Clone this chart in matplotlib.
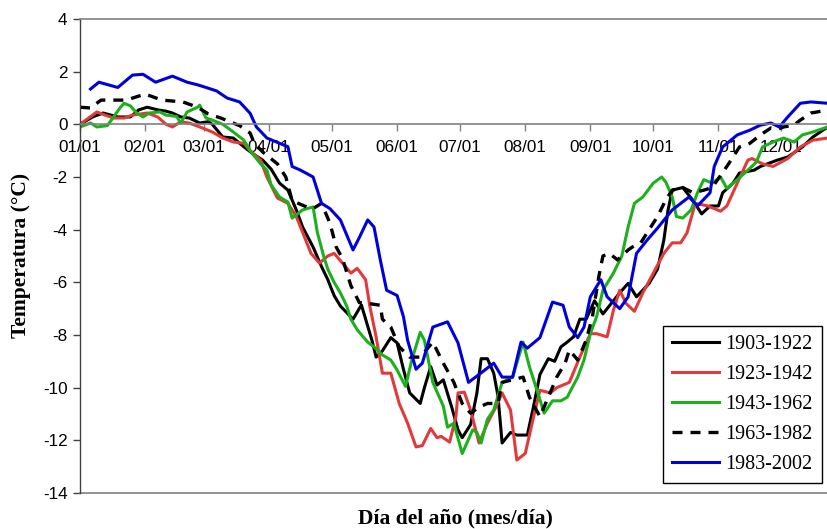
import matplotlib
matplotlib.use("Agg")
import matplotlib.pyplot as plt

plt.rcParams['axes.unicode_minus'] = False

month_ticks = [0, 31, 59, 90, 120, 151, 181, 212, 243, 273, 304, 334]
month_labels = ["01/01", "02/01", "03/01", "04/01", "05/01", "06/01",
                "07/01", "08/01", "09/01", "10/01", "11/01", "12/01"]
y_ticks = [-14, -12, -10, -8, -6, -4, -2, 0, 2, 4]

series_names = ["1903-1922", "1923-1942", "1943-1962", "1963-1982", "1983-2002"]

p1903 = [(0, 0.0), (6, 0.28), (11, 0.43), (18, 0.28), (24, 0.28), (28, 0.55), (32, 0.65), (37, 0.55),
         (41, 0.5), (44, 0.43), (48, 0.28), (52, 0.24), (57, 0.05), (61, 0.1), (63, 0.0), (68, -0.48),
         (73, -0.52), (78, -0.85), (82, -1.1), (87, -1.36), (91, -1.7), (95, -2.23), (99, -2.5),
         (103, -3.25), (106, -3.9), (111, -4.66), (115, -5.4), (118, -5.9), (121, -6.5), (124, -6.9),
         (130, -7.4), (134, -6.86), (139, -8.2), (141, -8.84), (144, -8.6), (148, -8.1), (151, -8.3),
         (154, -9.3), (157, -10.2), (162, -10.6), (164, -10.0), (167, -9.2), (170, -9.9), (173, -9.7),
         (177, -10.74), (180, -11.6), (182, -11.9), (186, -11.4), (189, -10.2), (191, -8.9), (194, -8.9),
         (197, -9.45), (199, -10.3), (201, -12.1), (205, -11.7), (208, -11.8), (213, -11.8), (216, -10.7),
         (219, -9.5), (223, -8.9), (226, -9.0), (229, -8.45), (232, -8.27), (235, -8.07), (238, -7.4),
         (241, -7.4), (245, -6.7), (249, -7.2), (252, -6.9), (257, -6.4), (261, -6.04), (265, -6.55),
         (271, -6.04), (275, -5.5), (278, -4.4), (280, -3.26), (282, -2.5), (287, -2.4), (292, -2.9),
         (296, -3.4), (300, -3.1), (304, -3.1), (306, -2.6), (311, -2.23), (314, -1.85), (321, -1.74),
         (324, -1.6), (332, -1.36), (337, -1.24), (344, -0.86), (349, -0.48), (356, -0.1)]

p1923 = [(0, 0.0), (8, 0.47), (12, 0.35), (16, 0.24), (21, 0.24), (25, 0.35), (32, 0.43), (37, 0.28),
         (41, 0.0), (44, -0.1), (48, 0.1), (52, 0.05), (57, -0.1), (63, -0.29), (68, -0.52), (73, -0.67),
         (78, -0.72), (81, -1.0), (86, -1.36), (89, -2.0), (94, -2.8), (99, -3.0), (103, -3.5), (106, -4.1),
         (110, -4.9), (114, -5.27), (118, -5.0), (121, -4.9), (125, -5.27), (129, -5.65), (132, -5.47),
         (136, -5.9), (138, -6.9), (141, -8.07), (144, -9.45), (148, -9.45), (152, -10.6), (156, -11.35),
         (160, -12.25), (163, -12.2), (167, -11.55), (170, -11.9), (172, -11.85), (176, -12.07),
         (179, -11.1), (180, -10.2), (183, -10.17), (186, -10.85), (190, -12.1), (194, -11.35),
         (198, -10.74), (201, -10.2), (205, -10.85), (208, -12.75), (212, -12.5), (216, -11.1),
         (219, -10.1), (224, -10.2), (227, -10.0), (233, -9.8), (238, -8.84), (243, -7.95), (246, -7.95),
         (251, -8.07), (254, -7.06), (257, -6.3), (260, -6.8), (264, -7.1), (268, -6.4), (273, -5.65),
         (278, -4.9), (282, -4.5), (286, -4.5), (289, -4.13), (293, -3.0), (299, -3.1), (305, -3.3),
         (308, -3.1), (313, -2.23), (318, -1.36), (320, -1.3), (325, -1.5), (330, -1.6), (337, -1.3),
         (343, -0.86), (349, -0.6), (356, -0.52)]

p1943 = [(0, -0.1), (5, 0.05), (8, -0.1), (13, -0.05), (16, 0.28), (19, 0.62), (21, 0.8), (24, 0.7),
         (27, 0.43), (30, 0.28), (33, 0.43), (38, 0.47), (41, 0.35), (46, 0.3), (48, 0.05), (51, 0.47),
         (56, 0.65), (57, 0.73), (60, 0.24), (63, 0.16), (68, 0.0), (73, -0.29), (78, -0.6), (81, -1.0),
         (86, -1.5), (89, -1.74), (91, -2.3), (95, -2.76), (99, -2.95), (101, -3.56), (106, -3.25),
         (109, -3.18), (111, -3.14), (113, -4.1), (116, -5.0), (118, -5.5), (121, -6.0), (124, -6.4),
         (127, -6.9), (129, -7.4), (132, -7.8), (137, -8.27), (140, -8.45), (144, -8.76), (148, -8.95),
         (151, -9.33), (155, -9.95), (158, -8.95), (162, -7.9), (164, -8.2), (168, -9.8), (173, -10.7),
         (175, -11.5), (178, -11.35), (182, -12.5), (187, -11.6), (189, -11.7), (191, -12.1), (194, -11.2),
         (197, -10.85), (201, -9.8), (206, -9.6), (211, -8.27), (214, -9.2), (218, -10.2), (221, -10.97),
         (225, -10.5), (229, -10.5), (232, -10.36), (237, -9.6), (240, -8.95), (243, -7.95), (246, -7.3),
         (249, -6.3), (254, -5.65), (258, -5.0), (261, -3.9), (264, -3.0), (268, -2.76), (273, -2.23),
         (277, -2.0), (279, -2.2), (282, -2.76), (284, -3.5), (287, -3.56), (291, -3.25), (294, -2.6),
         (297, -2.1), (301, -2.23), (305, -2.0), (308, -2.43), (313, -2.1), (318, -1.74), (322, -1.44),
         (325, -0.86), (330, -0.67), (335, -0.52), (340, -0.67), (344, -0.4), (349, -0.29), (356, -0.1)]

p1963 = [(0, 0.65), (5, 0.62), (10, 0.92), (22, 0.92), (31, 1.15), (39, 0.92), (49, 0.85), (56, 0.65),
         (61, 0.4), (67, 0.24), (76, -0.05), (81, -0.33), (83, -0.72), (87, -1.05), (94, -1.5), (98, -2.0),
         (101, -2.9), (108, -3.14), (111, -3.2), (115, -3.0), (119, -3.75), (122, -4.66), (125, -5.1),
         (129, -6.13), (133, -6.77), (137, -6.8), (143, -6.87), (144, -7.4), (148, -7.7), (152, -8.45),
         (157, -8.84), (162, -8.84), (168, -8.27), (173, -9.07), (178, -9.8), (182, -10.6), (186, -10.97),
         (190, -10.74), (194, -10.6), (199, -10.6), (201, -9.8), (206, -9.7), (211, -9.6), (214, -10.36),
         (219, -11.1), (223, -10.36), (227, -9.6), (231, -9.07), (233, -8.57), (237, -8.95), (241, -8.2),
         (244, -7.3), (247, -5.8), (249, -5.0), (252, -4.9), (256, -5.15), (261, -4.77), (263, -4.66),
         (267, -4.5), (271, -4.0), (275, -3.5), (279, -2.86), (282, -2.5), (287, -2.4), (292, -2.6),
         (297, -2.5), (301, -2.4), (308, -1.6), (311, -1.24), (314, -0.86), (319, -0.72), (324, -0.4),
         (329, -0.14), (332, -0.2), (335, -0.1), (340, -0.03), (343, 0.16), (348, 0.43), (351, 0.47),
         (356, 0.55)]

p1983 = [(5, 1.34), (9, 1.6), (18, 1.4), (25, 1.87), (30, 1.9), (36, 1.6), (44, 1.83), (51, 1.6), (56, 1.5),
         (60, 1.4), (65, 1.27), (70, 1.0), (76, 0.85), (81, 0.42), (84, -0.1), (89, -0.52), (95, -0.72),
         (99, -0.85), (101, -1.6), (105, -1.74), (111, -2.0), (115, -3.0), (119, -3.2), (124, -3.63),
         (130, -4.77), (133, -4.3), (137, -3.63), (140, -3.9), (143, -5.15), (146, -6.3), (151, -6.5),
         (154, -7.3), (156, -8.2), (160, -9.3), (163, -9.07), (168, -7.7), (175, -7.5), (180, -8.3),
         (185, -9.8), (190, -9.5), (197, -9.07), (201, -9.6), (206, -9.6), (210, -8.27), (213, -8.5),
         (219, -8.1), (225, -6.75), (230, -6.87), (233, -7.7), (237, -8.1), (240, -7.7), (243, -6.55),
         (248, -5.9), (251, -6.55), (257, -7.0), (261, -6.55), (265, -4.9), (270, -4.4), (275, -3.94),
         (282, -3.25), (290, -2.76), (294, -3.1), (300, -2.6), (302, -1.6), (306, -0.86), (313, -0.4),
         (319, -0.22), (324, -0.03), (329, 0.05), (333, -0.1), (337, 0.28), (343, 0.8), (348, 0.85),
         (356, 0.8)]

W, H = 827, 529
fig = plt.figure(figsize=(W / 100, H / 100), dpi=100)
ax = fig.add_axes([80 / W, 1 - 493 / H, 1 - 80 / W, (493 - 19) / H])

gray = "#808080"
styles = [
    dict(color="#000000", lw=2.2, ls="-"),
    dict(color="#E23A3A", lw=2.2, ls="-"),
    dict(color="#1DB01D", lw=2.2, ls="-"),
    dict(color="#000000", lw=2.4, ls=(0, (3.0, 2.4))),
    dict(color="#0000DD", lw=2.2, ls="-"),
]
data = [p1903, p1923, p1943, p1963, p1983]
for name, pts, st in zip(series_names, data, styles):
    xs = [p[0] for p in pts]
    ys = [p[1] for p in pts]
    ax.plot(xs, ys, label=name, solid_joinstyle="round", dash_capstyle="butt", **st)

ax.set_xlim(0, 355.7)
ax.set_ylim(-14, 4)

ax.spines["right"].set_visible(False)
ax.spines["top"].set_color(gray)
ax.spines["left"].set_color("#404040")
ax.spines["bottom"].set_position(("data", 0))
ax.spines["bottom"].set_color(gray)
ax.spines["left"].set_linewidth(1.0)
ax.spines["top"].set_linewidth(1.2)
ax.spines["bottom"].set_linewidth(1.2)
ax.axhline(-14, color=gray, lw=1.2, clip_on=False)

ax.set_xticks(month_ticks)
ax.set_xticklabels(month_labels)
ax.set_yticks(y_ticks)
ax.set_yticklabels([str(v) for v in y_ticks])
ax.tick_params(axis="x", direction="out", length=5, width=1, color=gray, pad=6,
               labelsize=12.3, labelcolor="#000000")
ax.tick_params(axis="y", direction="out", length=5, width=1, color="#404040", pad=4,
               labelsize=12.3)
for lab in ax.get_xticklabels() + ax.get_yticklabels():
    lab.set_fontfamily("Liberation Sans")

fig.text(21 / W, 1 - 255 / H, "Temperatura (°C)", rotation=90, ha="center", va="center",
         fontfamily="Liberation Serif", fontweight="bold", fontsize=15.5)
fig.text(455 / W, 1 - 518 / H, "Día del año (mes/día)", ha="center", va="center",
         fontfamily="Liberation Serif", fontweight="bold", fontsize=15.5)

leg = ax.legend(loc="lower right", bbox_to_anchor=(822 / W, 1 - 483 / H),
                bbox_transform=fig.transFigure, frameon=True, fancybox=False,
                prop={"family": "Liberation Serif", "size": 14.5},
                handlelength=2.3, handletextpad=0.35, labelspacing=0.54,
                borderpad=0.45, borderaxespad=0)
leg.get_frame().set_edgecolor("#000000")
leg.get_frame().set_linewidth(1.0)
leg.get_frame().set_alpha(1)

fig.savefig("out.png", dpi=100)
